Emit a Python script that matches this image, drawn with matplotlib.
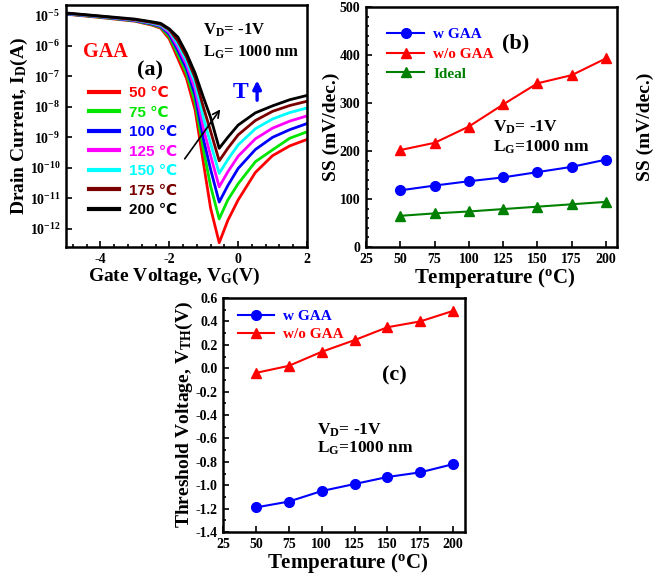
import matplotlib
matplotlib.use('Agg')
import matplotlib.pyplot as plt
from matplotlib.ticker import MultipleLocator, LogLocator, NullLocator, FormatStrFormatter
import numpy as np

plt.rcParams['font.family'] = ['Liberation Serif', 'DejaVu Serif']
plt.rcParams['font.weight'] = 'bold'
plt.rcParams['axes.labelweight'] = 'bold'
plt.rcParams['mathtext.default'] = 'regular'
plt.rcParams['axes.unicode_minus'] = False

# ---- (a) transfer curves: log10(I_D) vs V_G at each temperature ----
vg = [-5.0, -4.0, -3.0, -2.5, -2.25, -2.0, -1.75, -1.5, -1.25, -1.0, -0.8, -0.55,
      -0.3, 0.0, 0.5, 1.0, 1.5, 2.0]
logid_50 = [-4.97, -5.08, -5.20, -5.33, -5.43, -5.78, -6.42, -7.07, -8.10, -9.90, -11.32, -12.45,
            -11.72, -11.05, -10.15, -9.60, -9.28, -9.07]
logid_75 = [-4.96, -5.07, -5.19, -5.31, -5.40, -5.70, -6.28, -6.90, -7.85, -9.45, -10.60, -11.67,
            -11.05, -10.52, -9.80, -9.41, -9.03, -8.82]
logid_100 = [-4.96, -5.06, -5.18, -5.29, -5.37, -5.63, -6.16, -6.75, -7.62, -9.10, -10.05, -11.12,
             -10.58, -10.02, -9.40, -9.00, -8.75, -8.55]
logid_125 = [-4.95, -5.05, -5.17, -5.27, -5.35, -5.57, -6.05, -6.62, -7.42, -8.75, -9.60, -10.62,
             -10.13, -9.62, -9.05, -8.70, -8.47, -8.30]
logid_150 = [-4.95, -5.05, -5.16, -5.26, -5.33, -5.52, -5.95, -6.50, -7.22, -8.40, -9.20, -10.18,
             -9.73, -9.25, -8.72, -8.40, -8.19, -8.04]
logid_175 = [-4.94, -5.04, -5.15, -5.24, -5.30, -5.48, -5.85, -6.37, -7.05, -8.05, -8.80, -9.77,
             -9.36, -8.92, -8.45, -8.15, -7.96, -7.82]
logid_200 = [-4.93, -5.03, -5.13, -5.22, -5.27, -5.45, -5.72, -6.25, -6.90, -7.72, -8.35, -9.36,
             -9.00, -8.60, -8.20, -7.97, -7.77, -7.63]
curve_labels = ['50 \u2103', '75 \u2103', '100 \u2103', '125 \u2103', '150 \u2103', '175 \u2103', '200 \u2103']
curve_colors = ['#ff0000', '#00e600', '#0000ff', '#ff00ff', '#00ffff', '#7a0000', '#000000']
curves = [logid_50, logid_75, logid_100, logid_125, logid_150, logid_175, logid_200]

# ---- (b) subthreshold swing vs temperature ----
temps = [50, 75, 100, 125, 150, 175, 200]
ss_w_gaa = [118, 128, 137, 145, 156, 167, 182]
ss_wo_gaa = [202, 217, 251, 297, 341, 358, 393]
ss_ideal = [65, 70, 74, 79, 84, 89, 94]

# ---- (c) threshold voltage vs temperature ----
vth_w_gaa = [-1.19, -1.14, -1.05, -0.99, -0.93, -0.89, -0.82]
vth_wo_gaa = [-0.04, 0.02, 0.14, 0.24, 0.35, 0.40, 0.49]

W, H = 667, 578
fig = plt.figure(figsize=(W / 100, H / 100), dpi=100)


def box(l, t, r, b):
    return [l / W, 1 - b / H, (r - l) / W, (b - t) / H]


def style(ax):
    for s in ax.spines.values():
        s.set_linewidth(1.8)
    ax.tick_params(direction='in', which='both', top=False, right=False,
                   labelsize=10, width=1.2, pad=4)
    ax.tick_params(which='major', length=4)
    ax.tick_params(which='minor', length=2.5)
    for lab in ax.get_xticklabels() + ax.get_yticklabels():
        lab.set_fontweight('bold')


# ================= panel (a) =================
axa = fig.add_axes(box(66, 5, 307, 247))
for c, lab, col in zip(curves, curve_labels, curve_colors):
    axa.semilogy(vg, 10.0 ** np.array(c), color=col, lw=2.0, label=lab)
axa.set_xlim(-5, 2)
axa.set_ylim(10 ** -12.59, 10 ** -4.67)
axa.xaxis.set_major_locator(MultipleLocator(2))
axa.xaxis.set_minor_locator(MultipleLocator(0.4))
axa.yaxis.set_major_locator(LogLocator(base=10, numticks=20))
axa.yaxis.set_minor_locator(NullLocator())
style(axa)
axa.set_xlabel('Gate Voltage, V$_G$(V)', fontsize=14, fontweight='bold')
axa.set_ylabel('Drain Current, I$_D$(A)', fontsize=14, fontweight='bold')
axa.xaxis.set_label_coords(0.45, -0.08)
axa.yaxis.set_label_coords(-0.15, 0.5)
leg = axa.legend(loc='upper left', bbox_to_anchor=(0.095, 0.665), frameon=False,
                 handlelength=2.0, handletextpad=0.6, labelspacing=0.36,
                 borderpad=0, borderaxespad=0, labelcolor='linecolor',
                 prop={'weight': 'bold', 'size': 11,
                       'family': ['Liberation Sans', 'DejaVu Sans']})
for h in leg.get_lines():
    h.set_linewidth(3.0)
axa.text(0.07, 0.806, 'GAA', color='#ff0000', fontsize=14.5, fontweight='bold',
         transform=axa.transAxes, va='center')
axa.text(0.295, 0.731, '(a)', color='black', fontsize=16, fontweight='bold',
         transform=axa.transAxes, va='center')
axa.text(0.568, 0.897, 'V$_D$= -1V', fontsize=12, fontweight='bold',
         transform=axa.transAxes, va='center')
axa.text(0.568, 0.806, 'L$_G$= 1000 nm', fontsize=12, fontweight='bold',
         transform=axa.transAxes, va='center')
axa.text(0.69, 0.64, 'T', color='#0000ff', fontsize=17, fontweight='bold',
         transform=axa.transAxes, va='center')
axa.annotate('', xy=(0.793, 0.70), xytext=(0.793, 0.595), xycoords='axes fraction',
             arrowprops=dict(arrowstyle='-|>', color='#0000ff', lw=2.4,
                             mutation_scale=12))
axa.annotate('', xy=(0.647, 0.578), xytext=(0.486, 0.355), xycoords='axes fraction',
             arrowprops=dict(arrowstyle='->', color='black', lw=1.2,
                             mutation_scale=12))

# ================= panel (b) =================
axb = fig.add_axes(box(366, 7, 617, 247))
axb.plot(temps, ss_w_gaa, '-o', color='#0000ff', lw=1.5, ms=7, label='w GAA')
axb.plot(temps, ss_wo_gaa, '-^', color='#ff0000', lw=1.5, ms=7.5, label='w/o GAA')
axb.plot(temps, ss_ideal, '-^', color='#008000', lw=1.5, ms=7.5, label='Ideal')
axb.set_xlim(25, 208)
axb.set_ylim(0, 500)
axb.xaxis.set_major_locator(MultipleLocator(25))
axb.yaxis.set_major_locator(MultipleLocator(100))
axb.yaxis.set_minor_locator(MultipleLocator(20))
style(axb)
axb.set_xlabel('Temperature ($^o$C)', fontsize=15, fontweight='bold')
axb.set_ylabel('SS (mV/dec.)', fontsize=14, fontweight='bold')
axb.xaxis.set_label_coords(0.514, -0.08)
axb.yaxis.set_label_coords(-0.105, 0.5)
axb.legend(loc='upper left', bbox_to_anchor=(0.085, 0.915), frameon=False,
           handlelength=2.4, handletextpad=0.6, labelspacing=0.4,
           borderpad=0, borderaxespad=0, labelcolor='linecolor',
           prop={'weight': 'bold', 'size': 11})
axb.text(0.542, 0.85, '(b)', fontsize=16, fontweight='bold',
         transform=axb.transAxes, va='center')
axb.text(0.506, 0.50, 'V$_D$= -1V', fontsize=12.5, fontweight='bold',
         transform=axb.transAxes, va='center')
axb.text(0.506, 0.417, 'L$_G$=1000 nm', fontsize=12.5, fontweight='bold',
         transform=axb.transAxes, va='center')
fig.text(645 / W, 1 - 127 / H, 'SS (mV/dec.)', rotation=90, fontsize=14,
         fontweight='bold', ha='center', va='center')

# ================= panel (c) =================
axc = fig.add_axes(box(223, 298, 465, 532))
axc.plot(temps, vth_w_gaa, '-o', color='#0000ff', lw=1.5, ms=7, label='w GAA')
axc.plot(temps, vth_wo_gaa, '-^', color='#ff0000', lw=1.5, ms=7.5, label='w/o GAA')
axc.set_xlim(25, 209)
axc.set_ylim(-1.4, 0.6)
axc.xaxis.set_major_locator(MultipleLocator(25))
axc.yaxis.set_major_locator(MultipleLocator(0.2))
axc.yaxis.set_minor_locator(MultipleLocator(0.1))
axc.yaxis.set_major_formatter(FormatStrFormatter('%.1f'))
style(axc)
axc.set_xlabel('Temperature ($^o$C)', fontsize=15, fontweight='bold')
axc.set_ylabel('Threshold Voltage, V$_{TH}$(V)', fontsize=14, fontweight='bold')
axc.xaxis.set_label_coords(0.514, -0.08)
axc.yaxis.set_label_coords(-0.115, 0.5)
axc.legend(loc='upper left', bbox_to_anchor=(0.06, 0.95), frameon=False,
           handlelength=2.4, handletextpad=0.6, labelspacing=0.25,
           borderpad=0, borderaxespad=0, labelcolor='linecolor',
           prop={'weight': 'bold', 'size': 11})
axc.text(0.657, 0.671, '(c)', fontsize=16, fontweight='bold',
         transform=axc.transAxes, va='center')
axc.text(0.388, 0.435, 'V$_D$= -1V', fontsize=12.5, fontweight='bold',
         transform=axc.transAxes, va='center')
axc.text(0.388, 0.357, 'L$_G$=1000 nm', fontsize=12.5, fontweight='bold',
         transform=axc.transAxes, va='center')

fig.savefig('out.png', dpi=100)
